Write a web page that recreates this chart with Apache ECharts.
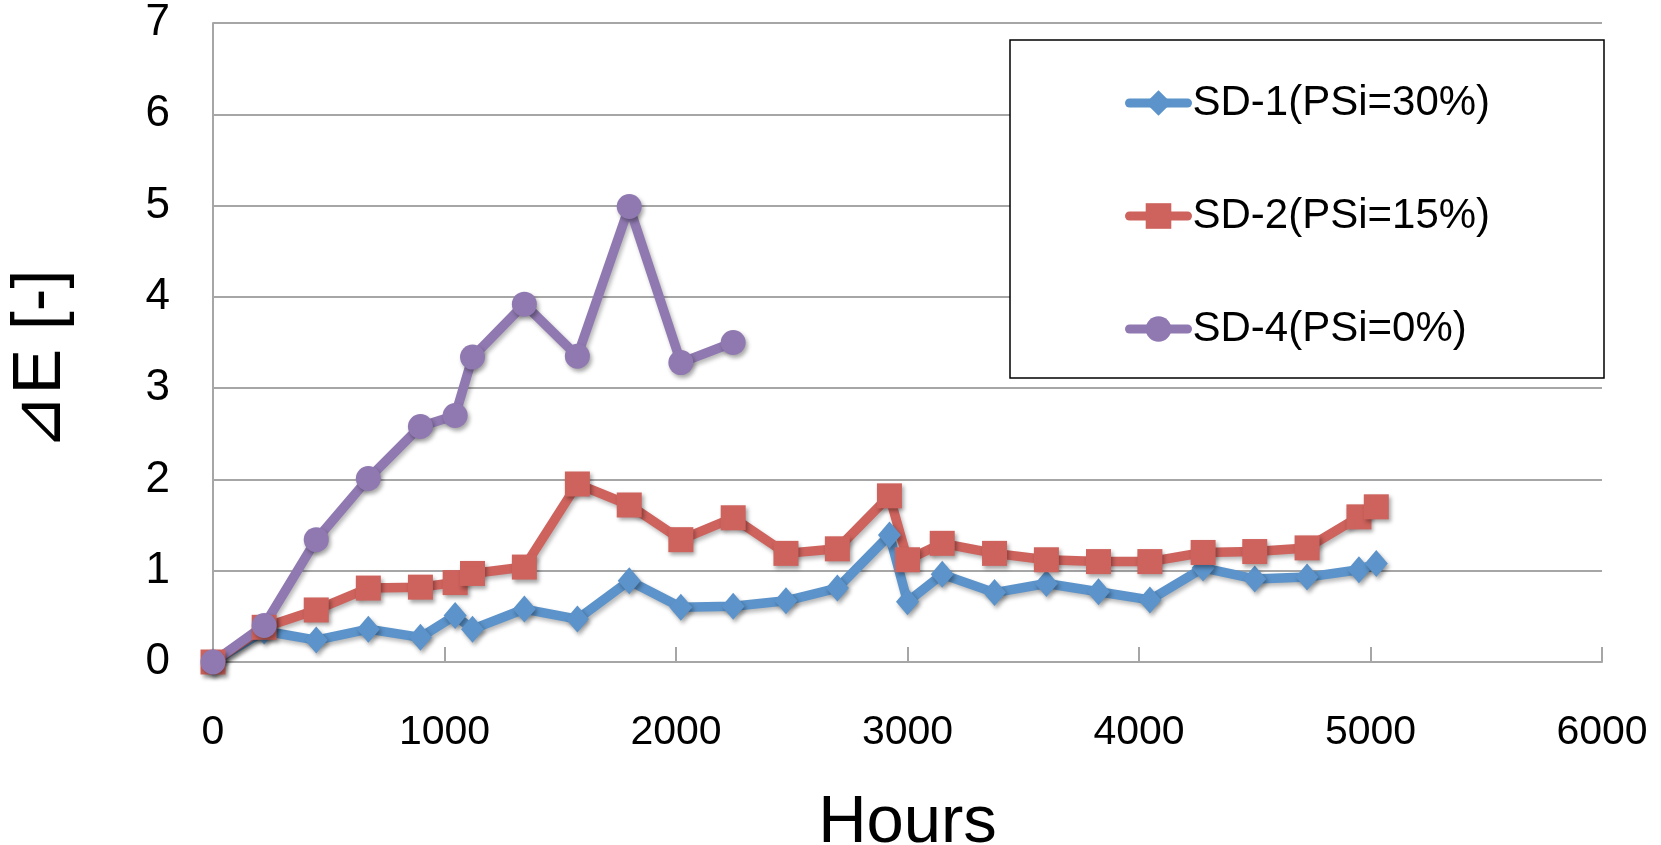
<!DOCTYPE html>
<html>
<head>
<meta charset="utf-8">
<script src="https://cdn.jsdelivr.net/npm/echarts@6/dist/echarts.min.js"></script>
<style>
html,body{margin:0;padding:0;background:#fff;}
#chart{width:1661px;height:845px;}
</style>
</head>
<body>
<div id="chart"></div>
<script>
// Hours for SD-1 and SD-2
const hoursAB = [0, 221, 446, 671, 896, 1046, 1121, 1345, 1574, 1798, 2021, 2247, 2475, 2697, 2922, 3000, 3150, 3376, 3600, 3825, 4047, 4277, 4500, 4726, 4950, 5025];
const sd1 = [0, 0.34, 0.24, 0.36, 0.27, 0.51, 0.36, 0.58, 0.47, 0.89, 0.60, 0.61, 0.67, 0.81, 1.39, 0.66, 0.96, 0.76, 0.86, 0.77, 0.68, 1.03, 0.91, 0.93, 1.01, 1.08];
const sd2 = [0, 0.38, 0.57, 0.81, 0.82, 0.87, 0.97, 1.04, 1.95, 1.72, 1.34, 1.58, 1.19, 1.24, 1.82, 1.12, 1.30, 1.19, 1.12, 1.10, 1.10, 1.20, 1.21, 1.25, 1.59, 1.70];
// Hours for SD-4
const hoursC = [0, 221, 446, 671, 896, 1046, 1121, 1345, 1574, 1798, 2021, 2247];
const sd4 = [0, 0.40, 1.34, 2.01, 2.58, 2.70, 3.34, 3.92, 3.35, 4.99, 3.28, 3.50];

const seriesNames = ['SD-1(PSi=30%)', 'SD-2(PSi=15%)', 'SD-4(PSi=0%)'];
const colors = ['#5B93CA', '#CE625C', '#9079B1'];
const xTicks = [0, 6000, 1000];
const yTicks = [0, 7, 1];

function pairs(xs, ys) { return xs.map((x, i) => [x, ys[i]]); }

const FONT = '"Liberation Sans", Arial, sans-serif';
const chart = echarts.init(document.getElementById('chart'), null, {renderer: 'canvas'});

function mkSeries(name, data, color, symbol, size) {
  return {
    name: name,
    type: 'line',
    data: data,
    symbol: symbol,
    symbolSize: size,
    showAllSymbol: true,
    animation: false,
    lineStyle: {color: color, width: 9.5, cap: 'round', join: 'round', shadowColor: 'rgba(0,0,0,0.28)', shadowBlur: 4, shadowOffsetX: 2, shadowOffsetY: 3},
    itemStyle: {color: color, opacity: 1, shadowColor: 'rgba(0,0,0,0.35)', shadowBlur: 4, shadowOffsetX: 2, shadowOffsetY: 3},
    emphasis: {disabled: true}
  };
}

const option = {
  backgroundColor: '#ffffff',
  animation: false,
  grid: {left: 213, right: 59, top: 23, bottom: 183, containLabel: false, outerBoundsMode: 'none'},
  xAxis: {
    type: 'value',
    min: xTicks[0], max: xTicks[1], interval: xTicks[2],
    name: 'Hours',
    nameLocation: 'middle',
    nameGap: 128,
    nameTextStyle: {fontSize: 67, color: '#000', fontFamily: FONT},
    axisLine: {show: true, lineStyle: {color: '#A6A6A6', width: 2}},
    axisTick: {show: true, inside: true, length: 15, lineStyle: {color: '#A6A6A6', width: 2}},
    axisLabel: {fontSize: 41, color: '#000', fontFamily: FONT, margin: 50, formatter: (v) => String(v)},
    splitLine: {show: false}
  },
  yAxis: {
    type: 'value',
    min: yTicks[0], max: yTicks[1], interval: yTicks[2],
    name: '⊿E [-]',
    nameLocation: 'middle',
    nameGap: 138,
    nameTextStyle: {fontSize: 68, color: '#000', fontFamily: FONT, padding: [0, 36, 0, 0]},
    axisLine: {show: true, lineStyle: {color: '#A6A6A6', width: 2}},
    axisTick: {show: false},
    axisLabel: {fontSize: 44, color: '#000', fontFamily: FONT, margin: 43},
    splitLine: {show: true, lineStyle: {color: '#A6A6A6', width: 2}}
  },
  graphic: [{
    type: 'rect',
    z: 10,
    shape: {x: 1010, y: 40, width: 594, height: 338},
    style: {fill: '#ffffff', stroke: '#000000', lineWidth: 1.5}
  }],
  legend: {
    z: 20,
    orient: 'vertical',
    left: 1120,
    top: 77,
    itemWidth: 58,
    itemHeight: 32,
    itemGap: 71,
    selectedMode: false,
    data: seriesNames,
    lineStyle: {width: 9, cap: 'round'},
    textStyle: {fontSize: 42, lineHeight: 42, color: '#000', fontFamily: FONT}
  },
  series: [
    mkSeries(seriesNames[0], pairs(hoursAB, sd1), colors[0], 'diamond', [23, 27]),
    mkSeries(seriesNames[1], pairs(hoursAB, sd2), colors[1], 'rect', 25),
    mkSeries(seriesNames[2], pairs(hoursC, sd4), colors[2], 'circle', 25)
  ]
};
chart.setOption(option);
</script>
</body>
</html>
